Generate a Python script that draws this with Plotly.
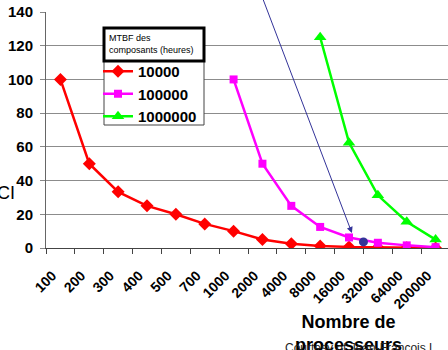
import plotly.graph_objects as go

categories = ["100", "200", "300", "400", "500", "700", "1000", "2000",
              "4000", "8000", "16000", "32000", "64000", "200000"]

mtbf_10000 = [100, 50, 33.3, 25, 20, 14.3, 10, 5, 2.5, 1.25, 0.63, 0.31, 0.16, 0.05]
mtbf_100000 = [None, None, None, None, None, None, 100, 50, 25, 12.5, 6.25, 3.1, 1.56, 0.5]
mtbf_1000000 = [None, None, None, None, None, None, None, None, None, 125, 62.5, 31.25, 15.6, 5]

series_names = ["10000", "100000", "1000000"]

highlight_x = [10.5]
highlight_y = [3.6]

arrow_tail = (7.0, 148.5)
arrow_tip = (10.1, 8.9)

FONT = "Liberation Sans, Arial, sans-serif"
idx = list(range(len(categories)))

L, T, PW, PH = 46, 12, 402, 236


def px(xp):
    return (xp - L) / PW


def py(yp):
    return (T + PH - yp) / PH


fig = go.Figure()
fig.add_trace(go.Scatter(x=idx, y=mtbf_10000, name=series_names[0], mode="lines+markers",
                         line=dict(color="#FF0000", width=2.5),
                         marker=dict(symbol="diamond", size=10, color="#FF0000")))
fig.add_trace(go.Scatter(x=idx, y=mtbf_100000, name=series_names[1], mode="lines+markers",
                         line=dict(color="#FF00FF", width=2.5),
                         marker=dict(symbol="square", size=8, color="#FF00FF")))
fig.add_trace(go.Scatter(x=idx, y=mtbf_1000000, name=series_names[2], mode="lines+markers",
                         line=dict(color="#00FF00", width=2.5),
                         marker=dict(symbol="triangle-up", size=11, color="#00FF00")))
fig.add_trace(go.Scatter(x=highlight_x, y=highlight_y, mode="markers", showlegend=False,
                         marker=dict(symbol="circle", size=9, color="#333399")))

fig.update_layout(
    width=448, height=350,
    margin=dict(l=L, r=0, t=T, b=350 - T - PH, autoexpand=False),
    paper_bgcolor="white", plot_bgcolor="white",
    font=dict(family=FONT, color="black"),
    showlegend=True,
    legend=dict(x=px(98), y=py(55), xanchor="left", yanchor="top",
                bgcolor="rgba(0,0,0,0)", borderwidth=0,
                font=dict(family=FONT, size=15, color="black", weight="bold"),
                tracegroupgap=0, itemwidth=30),
    xaxis=dict(range=[-0.5, 13.43], tickmode="array", tickvals=idx, ticktext=categories,
               tickangle=-45, ticks="", showgrid=False, zeroline=False,
               showline=True, linecolor="#444", linewidth=1, automargin=False,
               ticklabelstandoff=13, ticklabelshift=-8,
               tickfont=dict(family=FONT, size=14, color="black", weight="bold"),
               minor=dict(tick0=-0.5, dtick=1, ticks="outside", ticklen=5,
                          tickcolor="#444", showgrid=False)),
    yaxis=dict(range=[0, 140], tickvals=[0, 20, 40, 60, 80, 100, 120, 140],
               ticks="outside", ticklen=5, tickcolor="#888", automargin=False,
               ticklabelstandoff=4,
               showgrid=True, gridcolor="#8c8c8c", gridwidth=1, zeroline=False,
               showline=True, linecolor="#666", linewidth=1,
               tickfont=dict(family=FONT, size=15, color="black", weight="bold")),
)

# legend items box (thin border) and title box (thick border)
fig.add_shape(type="rect", xref="paper", yref="paper",
              x0=px(104), x1=px(204), y0=py(125), y1=py(61),
              line=dict(color="#444", width=1), fillcolor="white", layer="above")
fig.add_shape(type="rect", xref="paper", yref="paper",
              x0=px(104), x1=px(204), y0=py(61), y1=py(28),
              line=dict(color="black", width=3), fillcolor="white", layer="above")
fig.add_annotation(xref="paper", yref="paper", x=px(107), y=py(44),
                   xanchor="left", yanchor="middle", align="left", showarrow=False,
                   text="MTBF des<br>composants (heures)",
                   font=dict(family=FONT, size=9, color="black"))

# arrow
fig.add_annotation(x=arrow_tip[0], y=arrow_tip[1], ax=arrow_tail[0], ay=arrow_tail[1],
                   xref="x", yref="y", axref="x", ayref="y", text="", showarrow=True,
                   arrowhead=2, arrowsize=1.2, arrowwidth=1, arrowcolor="#333399")

# axis titles
fig.add_annotation(xref="paper", yref="paper", x=px(17), y=py(193),
                   xanchor="right", yanchor="middle", showarrow=False, text="CI",
                   font=dict(family=FONT, size=18, color="black"))
fig.add_annotation(xref="paper", yref="paper", x=px(348), y=py(310),
                   xanchor="center", yanchor="top", showarrow=False,
                   text="Nombre de<br>processeurs",
                   font=dict(family=FONT, size=18, color="black", weight="bold"))
fig.add_annotation(xref="paper", yref="paper", x=px(283), y=py(339),
                   xanchor="left", yanchor="top", showarrow=False,
                   text="Courtesy of Jean-François L",
                   font=dict(family=FONT, size=12, color="#222"))

fig.write_html("out.html", config={"displayModeBar": False},
               post_script="document.body.style.margin='0';")
